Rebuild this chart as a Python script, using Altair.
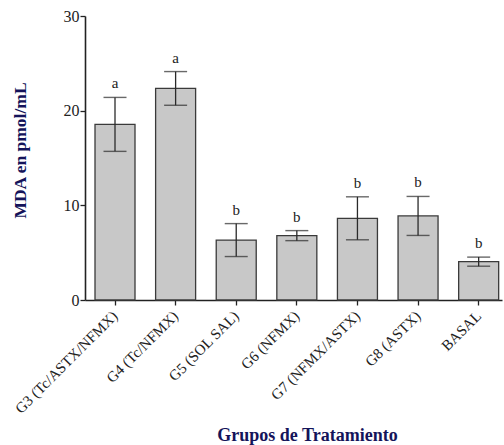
import altair as alt
import pandas as pd

# Mean MDA per treatment group, standard error, and significance letters
groups = ["G3 (Tc/ASTX/NFMX)", "G4 (Tc/NFMX)", "G5 (SOL SAL)", "G6 (NFMX)",
          "G7 (NFMX/ASTX)", "G8 (ASTX)", "BASAL"]
means = [18.55, 22.35, 6.33, 6.80, 8.63, 8.88, 4.05]
errors = [2.85, 1.78, 1.74, 0.53, 2.27, 2.06, 0.48]
letters = ["a", "a", "b", "b", "b", "b", "b"]

df = pd.DataFrame({"grupo": groups, "media": means, "ee": errors, "letra": letters})

SERIF = "Liberation Serif"
NAVY = "#14145a"

x = alt.X(
    "grupo:N",
    sort=None,
    scale=alt.Scale(paddingInner=0.34, paddingOuter=0.11, align=0.75),
    axis=alt.Axis(
        title="Grupos de Tratamiento",
        labelAngle=-45,
        labelAlign="right",
        labelBaseline="middle",
        labelFont=SERIF,
        labelFontSize=15,
        labelColor="#222222",
        labelPadding=8,
        tickSize=5,
        tickColor="#222222",
        tickWidth=1.3,
        domainColor="#222222",
        domainWidth=1.6,
        titleFont=SERIF,
        titleFontSize=18,
        titleFontWeight="bold",
        titleColor=NAVY,
        titleX=222,
        titleY=135,
        titleBaseline="middle",
    ),
)

y_axis = alt.Axis(
    title="MDA en pmol/mL",
    values=[0, 10, 20, 30],
    labelFont=SERIF,
    labelFontSize=16,
    labelColor="#222222",
    labelPadding=1,
    tickSize=5,
    tickColor="#222222",
    tickWidth=1.3,
    domainColor="#222222",
    domainWidth=1.6,
    grid=False,
    titleFont=SERIF,
    titleFontSize=17.5,
    titleFontWeight="bold",
    titleColor=NAVY,
    titleX=-65,
    titleY=134,
    titleBaseline="middle",
    titleAngle=-90,
)

base = alt.Chart(df).transform_calculate(
    lo="datum.media - datum.ee", hi="datum.media + datum.ee"
)

bars = base.mark_bar(fill="#c8c8c8", stroke="#3a3a3a", strokeWidth=1.3).encode(
    x=x,
    y=alt.Y("media:Q", scale=alt.Scale(domain=[0, 30], nice=False), axis=y_axis),
)

whisker = base.mark_rule(color="#2a2a2a", strokeWidth=1.3).encode(
    x=alt.X("grupo:N", sort=None),
    y="lo:Q",
    y2="hi:Q",
)

cap_hi = base.mark_tick(color="#2a2a2a", size=23, thickness=1.4).encode(
    x=alt.X("grupo:N", sort=None),
    y="hi:Q",
)

cap_lo = base.mark_tick(color="#2a2a2a", size=23, thickness=1.4).encode(
    x=alt.X("grupo:N", sort=None),
    y="lo:Q",
)

labels = base.mark_text(
    font=SERIF, fontSize=15, color="#222222", baseline="middle", dy=-14
).encode(
    x=alt.X("grupo:N", sort=None),
    y="hi:Q",
    text="letra:N",
)

chart = (
    alt.layer(bars, whisker, cap_hi, cap_lo, labels)
    .properties(
        width=417,
        height=284,
        autosize=alt.AutoSizeParams(type="none"),
        padding={"left": 85, "top": 16, "right": 2, "bottom": 145},
        background="white",
    )
    .configure_view(stroke=None)
)

chart.save("out.html", embed_options={"renderer": "svg", "actions": False})
